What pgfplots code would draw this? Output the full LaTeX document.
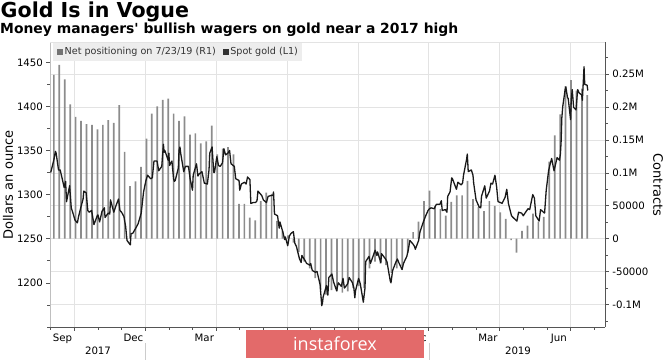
\documentclass[border=0pt]{standalone}
\usepackage{fontspec}
\setmainfont{DejaVu Sans}
\newfontfamily\wmfont{Open Sans}
\usepackage{pgfplots}
\pgfplotsset{compat=1.18}
\usepackage{pgfplotstable}
\definecolor{bargray}{HTML}{8C8C8C}
\definecolor{gridgray}{HTML}{E3E3E3}
\definecolor{axisgray}{HTML}{555555}
\definecolor{wmred}{HTML}{E36A6A}
\definecolor{leggray}{HTML}{EDEDED}

\pgfplotstableread{
x y
8.133 249000
8.363 264000
8.594 242000
8.824 204000
9.055 185000
9.285 179000
9.515 174000
9.746 173000
9.976 166000
10.207 173000
10.437 180000
10.667 176000
10.898 203000
11.128 132000
11.358 80000
11.589 87000
11.819 109000
12.050 152000
12.280 190000
12.510 201000
12.741 211000
12.971 213000
13.201 190000
13.432 179000
13.662 186000
13.893 158000
14.123 160000
14.353 145000
14.584 148000
14.814 172000
15.044 128000
15.275 137000
15.505 139000
15.736 128000
15.966 53000
16.196 53000
16.427 32000
16.657 28000
16.887 57000
17.118 70000
17.348 68000
17.579 27000
17.809 12000
18.039 5000
18.270 -6000
18.500 -20000
18.730 -35000
18.961 -45000
19.191 -60000
19.422 -78000
19.652 -85000
19.882 -78000
20.113 -80000
20.343 -82000
20.574 -80000
20.804 -75000
21.034 -72000
21.265 -75000
21.495 -45000
21.725 -35000
21.956 -38000
22.186 -40000
22.417 -52000
22.647 -45000
22.877 -42000
23.108 -22000
23.338 10000
23.568 26000
23.799 57000
24.029 73000
24.260 50000
24.490 45000
24.720 35000
24.951 56000
25.181 66000
25.411 66000
25.642 88000
25.872 60000
26.103 48000
26.333 42000
26.563 57000
26.794 50000
27.024 40000
27.254 30000
27.485 -2000
27.715 -21000
27.946 12000
28.176 20000
28.406 38000
28.637 26000
28.867 33000
29.098 117000
29.328 157000
29.558 189000
29.789 232000
30.019 241000
30.249 225000
30.480 228000
30.710 218000
}\netpos

\pgfplotstableread{
x y
8.00 1325
8.13 1339
8.20 1349
8.23 1347
8.33 1328
8.40 1328
8.47 1320
8.57 1308
8.63 1315
8.67 1292
8.80 1310
8.87 1285
8.93 1280
9.03 1271
9.13 1268
9.17 1274
9.27 1285
9.37 1295
9.40 1304
9.50 1302
9.57 1282
9.63 1280
9.73 1282
9.83 1266
9.97 1276
10.00 1277
10.07 1269
10.17 1281
10.27 1285
10.30 1274
10.43 1279
10.50 1278
10.53 1294
10.67 1280
10.77 1288
10.87 1295
10.93 1282
11.00 1280
11.10 1275
11.17 1264
11.23 1248
11.37 1243
11.40 1256
11.47 1256
11.60 1262
11.70 1267
11.83 1279
11.93 1303
12.03 1316
12.10 1322
12.23 1318
12.30 1319
12.37 1338
12.50 1338
12.57 1327
12.70 1332
12.77 1357
12.80 1348
12.83 1350
12.97 1339
13.00 1347
13.03 1333
13.13 1338
13.20 1318
13.23 1315
13.27 1316
13.40 1330
13.43 1350
13.47 1354
13.50 1347
13.63 1326
13.70 1332
13.83 1332
13.90 1318
14.00 1305
14.03 1322
14.17 1335
14.23 1321
14.27 1323
14.40 1326
14.47 1317
14.50 1313
14.63 1312
14.70 1328
14.73 1347
14.83 1354
14.90 1325
14.93 1325
15.03 1343
15.10 1333
15.17 1332
15.27 1336
15.33 1352
15.40 1345
15.50 1347
15.57 1350
15.63 1335
15.77 1332
15.83 1318
15.97 1316
16.00 1305
16.07 1312
16.20 1314
16.27 1312
16.33 1320
16.43 1317
16.47 1290
16.57 1291
16.67 1291
16.73 1293
16.77 1304
16.93 1299
17.00 1294
17.13 1291
17.20 1298
17.33 1299
17.40 1299
17.43 1303
17.47 1278
17.60 1276
17.67 1262
17.70 1269
17.83 1257
17.90 1249
17.93 1252
18.03 1242
18.10 1253
18.17 1256
18.27 1258
18.33 1245
18.40 1241
18.53 1227
18.60 1223
18.63 1231
18.77 1225
18.83 1222
18.97 1220
19.00 1222
19.07 1214
19.20 1212
19.27 1213
19.40 1198
19.47 1174
19.50 1177
19.53 1184
19.67 1197
19.73 1186
19.77 1206
19.90 1210
19.97 1201
20.10 1191
20.17 1200
20.30 1196
20.37 1205
20.43 1194
20.57 1199
20.63 1206
20.77 1200
20.83 1194
20.87 1183
20.90 1191
21.03 1205
21.10 1199
21.23 1178
21.30 1194
21.33 1224
21.47 1230
21.53 1222
21.60 1227
21.73 1237
21.80 1231
21.83 1235
21.97 1223
22.00 1233
22.03 1232
22.17 1227
22.23 1224
22.37 1202
22.40 1200
22.47 1214
22.60 1223
22.67 1227
22.73 1223
22.87 1215
22.93 1222
23.07 1230
23.13 1237
23.20 1248
23.33 1244
23.40 1241
23.43 1238
23.57 1248
23.63 1258
23.77 1269
23.87 1276
23.97 1282
24.03 1284
24.10 1285
24.23 1284
24.30 1288
24.33 1289
24.47 1289
24.53 1293
24.57 1282
24.70 1283
24.77 1280
24.80 1298
24.90 1303
24.97 1319
25.00 1318
25.10 1311
25.17 1306
25.23 1314
25.37 1311
25.43 1313
25.47 1322
25.60 1340
25.63 1346
25.67 1326
25.80 1328
25.87 1322
25.90 1313
26.00 1294
26.13 1286
26.20 1285
26.23 1298
26.37 1310
26.43 1296
26.57 1304
26.63 1313
26.70 1312
26.80 1322
26.87 1309
26.93 1292
27.03 1291
27.10 1290
27.23 1297
27.30 1306
27.37 1290
27.50 1276
27.57 1274
27.73 1270
27.80 1280
27.93 1279
28.00 1276
28.07 1279
28.20 1284
28.27 1283
28.40 1300
28.47 1296
28.53 1276
28.67 1270
28.73 1283
28.90 1279
28.97 1305
29.07 1327
29.13 1334
29.20 1341
29.30 1327
29.37 1335
29.43 1342
29.53 1339
29.57 1346
29.60 1360
29.63 1387
29.67 1400
29.77 1419
29.80 1422
29.87 1410
29.90 1409
30.00 1385
30.03 1408
30.07 1419
30.13 1399
30.23 1396
30.30 1419
30.37 1415
30.47 1413
30.50 1407
30.57 1445
30.60 1425
30.70 1424
30.73 1418
}\gold

\begin{document}
\begin{tikzpicture}
\path[use as bounding box] (-50pt,-33pt) rectangle (615pt,327pt);

% titles
\node[anchor=base west, inner sep=0pt, font=\bfseries\fontsize{20.6}{21}\selectfont] at (-49.5pt,309.5pt) {Gold Is in Vogue};
\node[anchor=base west, inner sep=0pt, font=\bfseries\fontsize{13.9}{15}\selectfont] at (-50pt,294pt) {Money managers\textquotesingle\ bullish wagers on gold near a 2017 high};

% right axis: net positioning (bars) + grid
\begin{axis}[
  at={(0pt,0pt)}, anchor=south west,
  width=555.3pt, height=285pt, scale only axis,
  xmin=7.97, xmax=31.47,
  ymin=-134200, ymax=298900,
  axis y line*=right, axis x line*=bottom,
  axis line style={draw=axisgray, line width=0.6pt},
  tick align=outside,
  major tick length=3.5pt, minor tick length=2.5pt,
  tick style={draw=axisgray, line width=0.6pt},
  ytick={-100000,-50000,0,50000,100000,150000,200000,250000},
  yticklabels={-0.1M,-50000,0,50000,0.1M,0.15M,0.2M,0.25M},
  minor ytick={-125000,-75000,-25000,25000,75000,125000,175000,225000,275000},
  xtick={9,12,15,18,21,24,27,30},
  xticklabels={Sep,Dec,Mar,Jun,{},Dec,Mar,Jun},
  minor xtick={8,10,11,13,14,16,17,19,20,22,23,25,26,28,29,31},
  xticklabel style={xshift=-11.8pt},
  ymajorgrids, xmajorgrids,
  major grid style={draw=gridgray, line width=0.6pt},
  ticklabel style={font=\fontsize{10.2}{11}\selectfont},
  scaled y ticks=false,
]
\addplot[ybar, bar width=1.7pt, fill=bargray, draw=none] table {\netpos};
\end{axis}

% left axis: spot gold
\begin{axis}[
  at={(0pt,0pt)}, anchor=south west,
  width=555.3pt, height=285pt, scale only axis,
  xmin=7.97, xmax=31.47,
  ymin=1149.9, ymax=1473,
  axis y line*=left, axis x line=none, xtick=\empty,
  axis line style={draw=gray!50, line width=0.6pt},
  tick align=outside,
  major tick length=3.5pt, minor tick length=2.5pt,
  tick style={draw=axisgray, line width=0.6pt},
  ytick={1200,1250,1300,1350,1400,1450},
  yticklabels={1200,1250,1300,1350,1400,1450},
  minor ytick={1150,1175,1225,1275,1325,1375,1425},
  ticklabel style={font=\fontsize{10.2}{11}\selectfont},
]
\addplot[black!90, line width=1.3pt, line join=round] table {\gold};
\draw[gridgray, line width=0.6pt] (rel axis cs:0,1) -- (rel axis cs:1,1);
\node[anchor=north west, fill=leggray, inner xsep=4pt, inner ysep=4.5pt,
      font=\fontsize{9.6}{10}\selectfont, text=black!80] at (rel axis cs:0.0054,0.997)
  {\textcolor{black!55}{\rule{6pt}{6pt}}\hspace{1.5pt}Net positioning on 7/23/19 (R1)\hspace{7pt}\rule{6pt}{6pt}\hspace{1.5pt}Spot gold (L1)};
\end{axis}

% axis titles
\node[rotate=90, font=\fontsize{13}{14}\selectfont] at (-42pt,142pt) {Dollars an ounce};
\node[rotate=-90, font=\fontsize{13}{14}\selectfont] at (608pt,142pt) {Contracts};

% year labels
\node[font=\fontsize{10.2}{11}\selectfont] at (48pt,-24pt) {2017};
\node[font=\fontsize{10.2}{11}\selectfont] at (468pt,-24pt) {2019};
\draw[gray!40, line width=0.6pt] (95.2pt,-16pt) -- (95.2pt,-33pt);
\draw[gray!40, line width=0.6pt] (378.8pt,-16pt) -- (378.8pt,-33pt);

% watermark
\fill[wmred] (196pt,-2.5pt) rectangle (374pt,-31pt);
\node[text=white, font=\wmfont\fontsize{18}{19}\selectfont] at (285pt,-16.5pt) {instaforex};
\end{tikzpicture}
\end{document}
